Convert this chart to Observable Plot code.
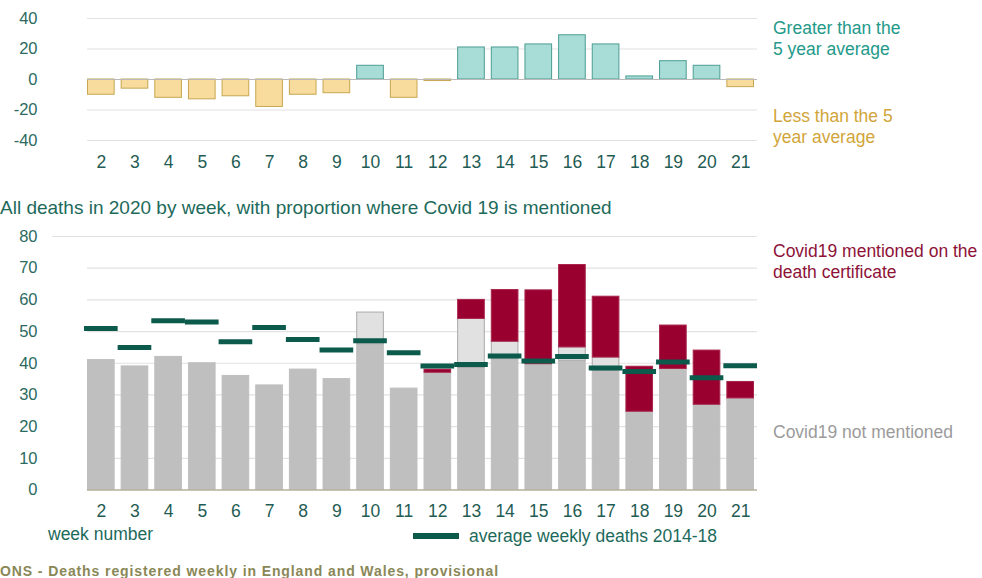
<!DOCTYPE html>
<html><head><meta charset="utf-8">
<script src="https://cdn.jsdelivr.net/npm/d3@7"></script>
<script src="https://cdn.jsdelivr.net/npm/@observablehq/plot@0.6"></script>
<style>
body{margin:0;background:#fff;}
#wrap{position:relative;width:982px;height:578px;overflow:hidden;font-family:"Liberation Sans",Arial,sans-serif;background:#fff;}
.lbl{position:absolute;white-space:nowrap;font-size:17.5px;line-height:21px;}
.plot{position:absolute;left:0;}
</style></head><body><div id="wrap"></div>
<script>
// ---- data ----
const weeks = [2,3,4,5,6,7,8,9,10,11,12,13,14,15,16,17,18,19,20,21];
const diffFromAverage = [-10,-6,-12,-13,-11,-18,-10,-9,9,-12,-1,21,21,23,29,23,2,12,9,-5];
const notMentioned = [41,39,42,40,36,33,38,35,46,32,37,38.5,41.3,39.7,40.8,37.6,24.7,38.2,26.9,28.9];
const notMentionedAboveAverage = [0,0,0,0,0,0,0,0,10,0,0,15.5,5.5,0,4.2,4.2,0,0,0,0];
const covidMentioned = [0,0,0,0,0,0,0,0,0,0,1,6,16.3,23.3,26,19.2,14.2,13.7,17.1,5.2];
const averageDeaths = [51,45,53.4,53,46.8,51.3,47.5,44.2,47.1,43.3,39.1,39.6,42.3,40.7,42.1,38.5,37.4,40.4,35.4,39.2];
const topTicks = [-40,-20,0,20,40];
const bottomTicks = [0,10,20,30,40,50,60,70,80];

const font = '"Liberation Sans", Arial, sans-serif';
const axisColor = "#2b6a60";
const wrap = document.getElementById("wrap");

// ---- top chart: difference from 5 year average ----
const topData = weeks.map((w,i)=>({week:w, diff:diffFromAverage[i]}));
const topPlot = Plot.plot({
  width:982, height:180, marginTop:18, marginBottom:40, marginLeft:84, marginRight:225,
  x:{type:"band", domain:weeks, padding:0, round:false},
  y:{domain:[-40,40]},
  color:{type:"identity"},
  style:{fontFamily:font, fontSize:"17px", background:"transparent", overflow:"visible"},
  marks:[
    Plot.ruleY(topTicks.filter(d=>d!==0), {stroke:"#e2e2e2", strokeWidth:1.2, insetLeft:3}),
    Plot.barY(topData, {x:"week", y:"diff",
      fill:d=>d.diff>=0?"#a7dcd7":"#f8dc9e",
      stroke:d=>d.diff>=0?"#4c9d93":"#c7a651",
      strokeWidth:1, insetLeft:3.5, insetRight:3.5}),
    Plot.ruleY([0], {stroke:"#b9b9b9", strokeWidth:1.2, insetLeft:3}),
    Plot.axisY({ticks:topTicks, tickSize:0, tickPadding:47, tickFormat:d=>String(d), fill:axisColor, label:null, fontSize:16.5}),
    Plot.axisX({tickSize:0, tickPadding:14.7, fill:"#1f5c53", label:null, fontSize:17.5})
  ]
});
topPlot.classList.add("plot");
topPlot.style.top = "0px";
wrap.appendChild(topPlot);

// ---- bottom chart: all deaths with Covid 19 proportion ----
const partFill = {not:"#bfbfbf", excess:"#e1e1e1", covid:"#990030"};
const partStroke = {not:"#bfbfbf", excess:"#a9a9a9", covid:"#a8244a"};
const stackRows = [];
weeks.forEach((w,i)=>{
  stackRows.push({week:w, part:"not", value:notMentioned[i]});
  stackRows.push({week:w, part:"excess", value:notMentionedAboveAverage[i]});
  stackRows.push({week:w, part:"covid", value:covidMentioned[i]});
});
const avgRows = weeks.map((w,i)=>({week:w, avg:averageDeaths[i]}));

const bottomPlot = Plot.plot({
  width:982, height:300, marginTop:16, marginBottom:30.5, marginLeft:84, marginRight:225,
  x:{type:"band", domain:weeks, padding:0, round:false},
  y:{domain:[0,80]},
  color:{type:"identity"},
  style:{fontFamily:font, fontSize:"17px", background:"transparent", overflow:"visible"},
  marks:[
    Plot.ruleY(bottomTicks.filter(d=>d>0 && d<80), {stroke:"#e2e2e2", strokeWidth:1.2, insetLeft:3}),
    Plot.ruleY([80], {stroke:"#e2e2e2", strokeWidth:1.2, insetLeft:-32}),
    Plot.barY(stackRows.filter(d=>d.value>0), Plot.stackY({x:"week", y:"value", z:"part",
      fill:d=>partFill[d.part], stroke:d=>partStroke[d.part],
      strokeWidth:1, insetLeft:3.5, insetRight:3.5})),
    Plot.ruleY([0], {stroke:"#b5b09a", strokeWidth:1.6, insetLeft:3}),
    Plot.tickY(avgRows, {x:"week", y:"avg", stroke:"#0b5a4c", strokeWidth:5}),
    Plot.axisY({ticks:bottomTicks, tickSize:0, tickPadding:47, fill:axisColor, label:null, fontSize:16.5}),
    Plot.axisX({tickSize:0, tickPadding:14.2, fill:"#1f5c53", label:null, fontSize:17.5})
  ]
});
bottomPlot.classList.add("plot");
bottomPlot.style.top = "220px";
wrap.appendChild(bottomPlot);

// ---- texts ----
function label(text, left, top, color, extra){
  const d = document.createElement("div");
  d.className = "lbl";
  d.innerHTML = text;
  d.style.left = left + "px";
  d.style.top = top + "px";
  d.style.color = color;
  if (extra) Object.assign(d.style, extra);
  wrap.appendChild(d);
  return d;
}
label("Greater than the<br>5 year average", 773, 17.5, "#23998a");
label("Less than the 5<br>year average", 773, 105.5, "#d1a53a");
label("Covid19 mentioned on the<br>death certificate", 773, 240.5, "#8d1238");
label("Covid19 not mentioned", 773, 421.5, "#9b9b9b");
label("All deaths in 2020 by week, with proportion where Covid 19 is mentioned", 0, 197, "#1d6a5b", {fontSize:"19px", lineHeight:"22px"});
label("week number", 48, 523.5, "#1d6a5b");
label("average weekly deaths 2014-18", 469, 525.5, "#1d6a5b");
label("ONS - Deaths registered weekly in England and Wales, provisional", 0, 561, "#8a8757", {fontWeight:"bold", fontSize:"14px", letterSpacing:"0.9px"});
const sw = document.createElement("div");
Object.assign(sw.style, {position:"absolute", left:"413px", top:"533px", width:"46px", height:"6px", background:"#0b5a4c"});
wrap.appendChild(sw);
</script>
</body></html>
